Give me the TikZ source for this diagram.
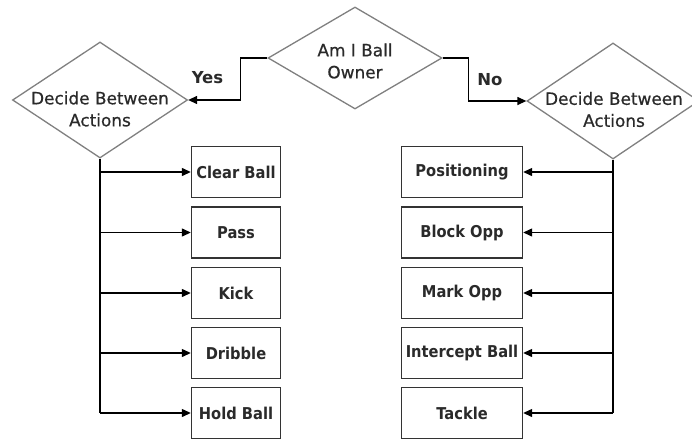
\documentclass[tikz,border=0pt]{standalone}
\usepackage{fontspec}
\setmainfont{DejaVu Sans}
\newfontfamily\boxfont[FakeStretch=0.9]{DejaVu Sans}
\newfontfamily\diafont[FakeBold=0.6]{DejaVu Sans}
\usetikzlibrary{arrows.meta,shapes.geometric}
\definecolor{txt}{HTML}{2A2A2A}
\definecolor{dborder}{HTML}{808080}
\definecolor{bborder}{HTML}{333333}
\tikzset{
  dia/.style={diamond, draw=dborder, line width=1.3pt, fill=white, inner sep=0pt, aspect=1.5},
  dtext/.style={align=center, text=txt, font=\diafont\fontsize{16.9}{22}\selectfont, inner sep=0pt},
  actbox/.style={draw=bborder, line width=1.4pt, fill=white, minimum height=51pt, inner sep=0pt,
    text=txt, font=\boxfont\bfseries\fontsize{16.3}{19}\selectfont},
  lbox/.style={actbox, minimum width=89pt},
  rbox/.style={actbox, minimum width=121pt},
  conn/.style={line width=1.3pt, black},
  arr/.style={conn, -{Triangle[length=9pt,width=8pt]}},
  lbl/.style={text=txt, font=\bfseries\fontsize{16.5}{19}\selectfont, inner sep=0pt}
}
\begin{document}
\begin{tikzpicture}[x=1pt,y=-1pt]
\useasboundingbox (0,0) rectangle (692,439);
\clip (0,0) rectangle (692,439);
\fill[white] (0,0) rectangle (692,439);

% diamonds
\node[dia, minimum width=174pt, minimum height=102pt] (own) at (355,58) {};
\node[dtext] (owntxt) at (355,61) {Am I Ball\\Owner};
\node[dia, minimum width=175pt, minimum height=116pt] (lact) at (100,100) {};
\node[dtext] (lacttxt) at (100,109) {Decide Between\\Actions};
\node[dia, minimum width=172pt, minimum height=116pt] (ract) at (613,101) {};
\node[dtext] (racttxt) at (614,109.5) {Decide Between\\Actions};

% left boxes
\node[lbox] (l1) at (236,172) {Clear Ball};
\node[lbox] (l2) at (236,232.5) {Pass};
\node[lbox] (l3) at (236,293) {Kick};
\node[lbox] (l4) at (236,353) {Dribble};
\node[lbox] (l5) at (236,413) {Hold Ball};

% right boxes
\node[rbox] (r1) at (462,172) {Positioning};
\node[rbox] (r2) at (462,232.5) {Block Opp};
\node[rbox] (r3) at (462,293) {Mark Opp};
\node[rbox] (r4) at (462,353) {Intercept Ball};
\node[rbox] (r5) at (462,413) {Tackle};

% yes / no
\draw[arr] (own.west) -- ++(-27,0) |- (lact.east);
\draw[arr] (own.east) -- ++(26,0) |- (ract.west);
\node[lbl] (yes) at (207.5,78) {Yes};
\node[lbl] (no) at (490,80) {No};

% left trunk
\draw[conn] (lact.south) -- (lact.south |- l5.west);
\foreach \b in {l1,l2,l3,l4,l5}
  \draw[arr] (lact.south |- \b.west) -- (\b.west);

% right trunk
\draw[conn] (ract.south) -- (ract.south |- r5.east);
\foreach \b in {r1,r2,r3,r4,r5}
  \draw[arr] (ract.south |- \b.east) -- (\b.east);
\end{tikzpicture}
\end{document}
